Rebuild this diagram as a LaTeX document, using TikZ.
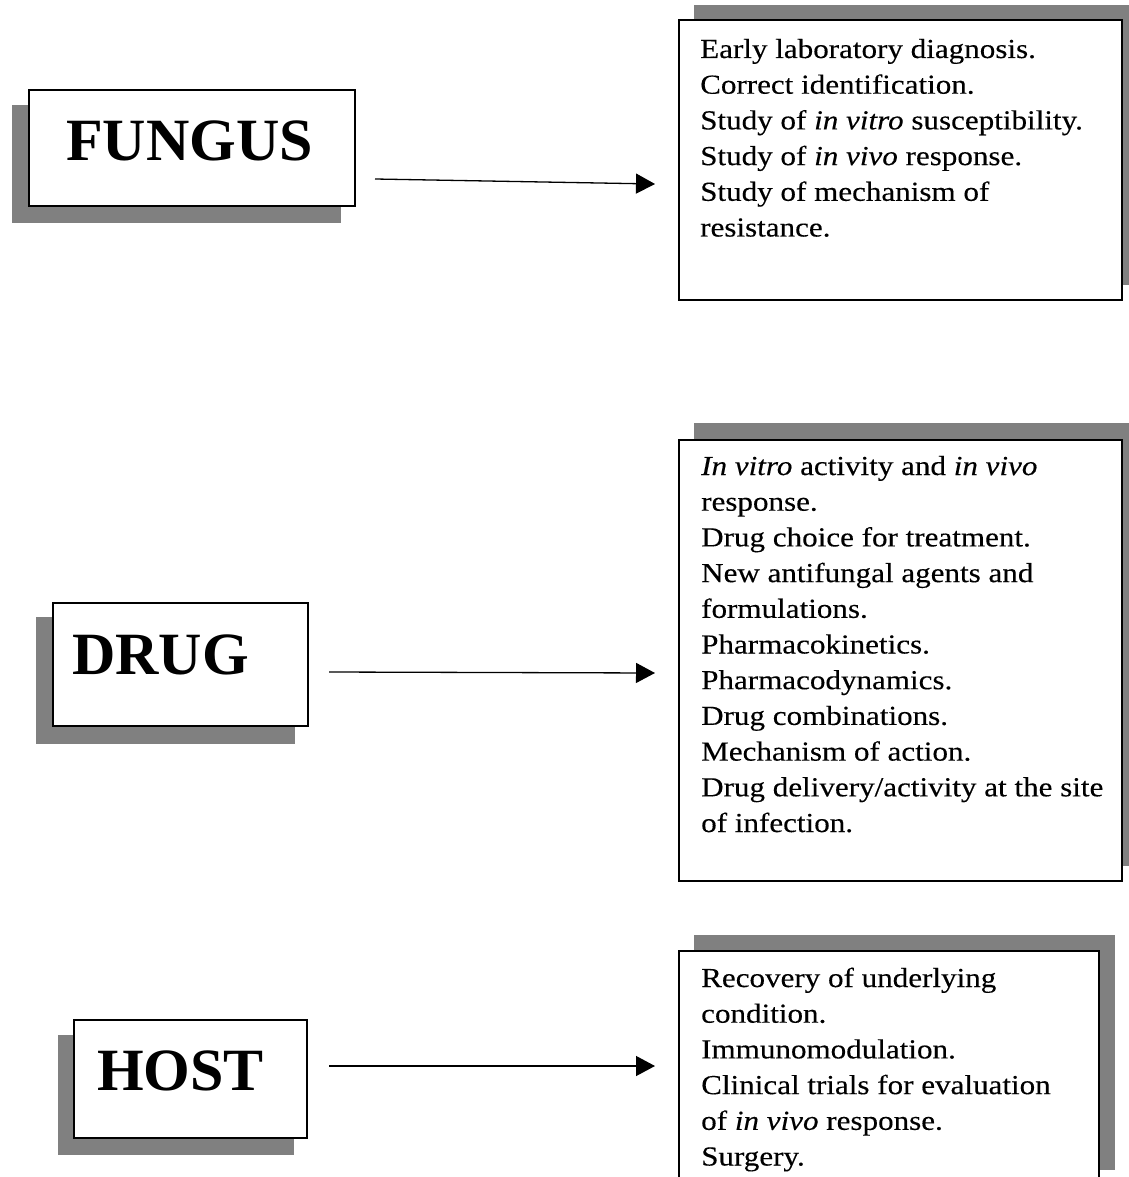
\documentclass[tikz,border=0pt]{standalone}
\usepackage{fontspec}
\setmainfont[FakeStretch=1.13,FakeBold=0.25]{Liberation Serif}
\newfontfamily\labelfont{Liberation Serif}
\usetikzlibrary{arrows.meta}
\tikzset{
  shadowbox/.style={fill=black!50, draw=none},
  whitebox/.style={fill=white, draw=black, line width=1.6pt},
  bigword/.style={anchor=base west, inner sep=0pt, font=\labelfont\bfseries\fontsize{60pt}{60pt}\selectfont},
  listtext/.style={anchor=base west, inner sep=0pt},
  flow/.style={line width=1.3pt, -{Triangle[length=19pt,width=20pt]}}
}
\newcommand{\listblock}[1]{\parbox[t]{430pt}{\raggedright\fontsize{27.5pt}{35.7pt}\selectfont #1}}
\begin{document}
\begin{tikzpicture}[x=1pt,y=-1pt]
\useasboundingbox (0,0) rectangle (1128,1177);
% shadows
\fill[shadowbox] (12,105) rectangle (341,223);
\fill[shadowbox] (36,617) rectangle (295,744);
\fill[shadowbox] (58,1035) rectangle (294,1155);
\fill[shadowbox] (694,5) rectangle (1137,285);
\fill[shadowbox] (694,423) rectangle (1137,866);
\fill[shadowbox] (694,935) rectangle (1115,1170);
% boxes
\node[whitebox, anchor=north west, minimum width=326pt, minimum height=116pt, inner sep=0pt] (fungusbox) at (28,89) {};
\node[whitebox, anchor=north west, minimum width=255pt, minimum height=123pt, inner sep=0pt] (drugbox) at (52,602) {};
\node[whitebox, anchor=north west, minimum width=233pt, minimum height=118pt, inner sep=0pt] (hostbox) at (73,1019) {};
\node[whitebox, anchor=north west, minimum width=443pt, minimum height=280pt, inner sep=0pt] (fbox) at (678,19) {};
\node[whitebox, anchor=north west, minimum width=443pt, minimum height=441pt, inner sep=0pt] (dbox) at (678,439) {};
\node[whitebox, anchor=north west, minimum width=420pt, minimum height=240pt, inner sep=0pt] (hbox) at (678,950) {};
% labels
\node[bigword] (fungus) at (66,161) {FUNGUS};
\node[bigword] (drug) at (72,674) {DRUG};
\node[bigword] (host) at (97,1090) {HOST};
% list texts
\node[listtext] (ftext) at (700,58) {\listblock{Early laboratory diagnosis.\\
Correct identification.\\
Study of \textit{in vitro} susceptibility.\\
Study of \textit{in vivo} response.\\
Study of mechanism of\\
resistance.}};
\node[listtext] (dtext) at (701,475) {\listblock{\textit{In vitro} activity and \textit{in vivo}\\
response.\\
Drug choice for treatment.\\
New antifungal agents and\\
formulations.\\
Pharmacokinetics.\\
Pharmacodynamics.\\
Drug combinations.\\
Mechanism of action.\\
Drug delivery/activity at the site\\
of infection.}};
\node[listtext] (htext) at (701,987) {\listblock{Recovery of underlying\\
condition.\\
Immunomodulation.\\
Clinical trials for evaluation\\
of \textit{in vivo} response.\\
Surgery.}};
% connectors
\coordinate (a1s) at (375,179);
\coordinate (a1e) at (655,184);
\coordinate (a2s) at (329,672);
\coordinate (a2e) at (655,673);
\coordinate (a3s) at (329,1066);
\coordinate (a3e) at (655,1066);
\draw[flow] (a1s) -- (a1e);
\draw[flow] (a2s) -- (a2e);
\draw[flow] (a3s) -- (a3e);
\end{tikzpicture}
\end{document}
